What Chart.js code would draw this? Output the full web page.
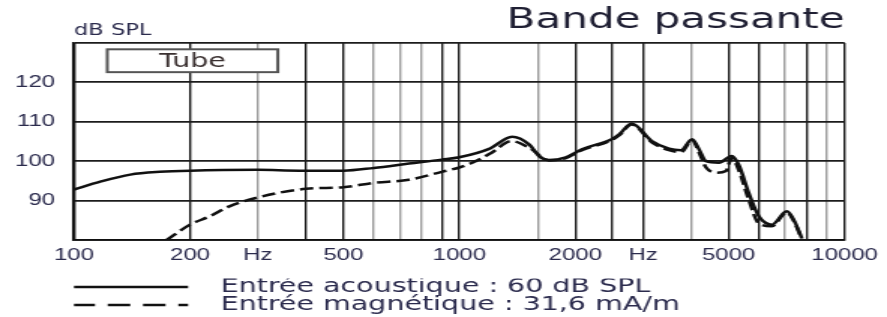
<!DOCTYPE html>
<html>
<head>
<meta charset="utf-8">
<script src="https://cdn.jsdelivr.net/npm/chart.js@4/dist/chart.umd.min.js"></script>
<style>
  html, body { margin: 0; padding: 0; background: #fff; }
  /* the printed chart is stretched sideways, so the bitmap is drawn narrow and widened by css */
  #response-chart { width: 887px; height: 317px; }
</style>
</head>
<body>
<canvas id="response-chart" width="591" height="317" style="width:887px;height:317px"></canvas>
<script>
// levels (Hz -> dB SPL)
const acousticFreq = [100, 117, 140, 167, 200, 300, 385, 500, 600, 740, 900, 1000, 1200, 1370, 1520, 1610, 1710, 1890, 2080, 2500, 2600, 2800, 3160, 3500, 3760, 4020, 4190, 4370, 4720, 5090, 5310, 5640, 5990, 6470, 7080, 7380, 7740];
const acousticLevel = [92.8, 94.8, 96.6, 97.3, 97.6, 97.8, 97.6, 97.6, 98.3, 99.4, 100.4, 101.0, 103.2, 106.2, 104.2, 101.3, 100.3, 101.0, 103.0, 105.7, 106.8, 109.6, 105.1, 103.2, 102.8, 105.6, 103.0, 100.0, 99.6, 101.3, 99.1, 91.9, 86.0, 83.9, 87.3, 85.1, 80.5];

const magneticFreq = [174, 200, 225, 254, 300, 400, 500, 600, 740, 900, 1000, 1080, 1210, 1365, 1520, 1710, 1890, 2080, 2500, 2600, 2800, 3160, 3500, 3760, 4020, 4190, 4370, 4660, 4920, 5090, 5310, 5640, 5990, 6470, 7080, 7380, 7740];
const magneticLevel = [80.0, 83.9, 86.0, 88.6, 90.8, 93.0, 93.4, 94.5, 95.3, 97.3, 98.4, 99.6, 102.1, 105.1, 103.4, 100.2, 100.8, 102.8, 105.5, 106.6, 109.3, 104.8, 102.8, 102.3, 105.3, 102.2, 98.4, 97.1, 97.5, 100.8, 97.8, 90.2, 84.2, 83.5, 87.0, 84.8, 80.3];

// vertical grid lines, the paler ones, and which of them carry a label
const gridFreqs = [100, 200, 300, 400, 500, 600, 700, 800, 900, 1000, 1600, 2000, 2500, 3000, 4000, 5000, 6000, 7000, 8000, 9000, 10000];
const paleFreqs = [300, 600, 700, 800, 1600, 4000, 7000, 9000];
const labelFreqs = [100, 200, 300, 500, 1000, 2000, 3000, 5000, 10000];
const labelTexts = ['100', '200', 'Hz', '500', '1000', '2000', 'Hz', '5000', '10000'];
const levelTicks = [90, 100, 110, 120];

const ink = '#2b2b4d';
const font = 'DejaVu Sans';
const tickFont = 'Liberation Sans';

//the little "Tube" box in the top left corner of the plot
const tubeBox = {
    id: 'tubeBox',
    afterDatasetsDraw(chart) {
        const { ctx, scales: { x, y } } = chart;
        const left = x.getPixelForValue(122);
        const right = x.getPixelForValue(338);
        const top = y.getPixelForValue(128.4);
        const bottom = y.getPixelForValue(122.6);
        ctx.save();
        ctx.fillStyle = '#fff';
        ctx.fillRect(left, top, right - left, bottom - top);
        ctx.strokeStyle = '#555';
        ctx.lineWidth = 2;
        ctx.strokeRect(left, top, right - left, bottom - top);
        ctx.fillStyle = '#3a3030';
        ctx.font = '19px ' + font;
        ctx.textAlign = 'center';
        ctx.textBaseline = 'middle';
        ctx.fillText('Tube', (left + right) / 2, (top + bottom) / 2 + 1);
        ctx.restore();
    }
};

const canvas = document.querySelector('#response-chart');
new Chart(canvas.getContext('2d'), {
    type: 'line',
    data: {
        datasets: [{
            label: 'Entrée acoustique : 60 dB SPL',
            data: acousticFreq.map((f, i) => ({ x: f, y: acousticLevel[i] })),
            borderColor: '#111',
            backgroundColor: '#111',
            borderWidth: 2.5,
            pointRadius: 0,
            cubicInterpolationMode: 'monotone'
        }, {
            label: 'Entrée magnétique : 31,6 mA/m',
            data: magneticFreq.map((f, i) => ({ x: f, y: magneticLevel[i] })),
            borderColor: '#111',
            backgroundColor: '#111',
            borderWidth: 2.5,
            borderDash: [9, 4],
            pointRadius: 0,
            cubicInterpolationMode: 'monotone'
        }]
    },
    options: {
        responsive: false,
        animation: false,
        layout: { padding: { left: 0, right: 28, top: 0, bottom: -7.5 } },
        plugins: {
            title: {
                display: true,
                text: 'Bande passante',
                align: 'end',
                fullSize: false,
                color: '#1f1f33',
                font: { family: font, size: 28, weight: 'normal' },
                padding: { top: 4, bottom: -15.6 }
            },
            subtitle: {
                display: true,
                text: 'dB SPL',
                align: 'start',
                fullSize: false,
                color: ink,
                font: { family: font, size: 15 },
                padding: { top: 0, bottom: 3 }
            },
            legend: {
                position: 'bottom',
                align: 'start',
                fullSize: false,
                labels: {
                    usePointStyle: true,
                    pointStyle: 'line',
                    pointStyleWidth: 77,
                    boxHeight: 10,
                    padding: -1,
                    color: ink,
                    font: { family: font, size: 19 },
                    //point style legends lose the dash, so put the line style back
                    generateLabels: chart => Chart.defaults.plugins.legend.labels.generateLabels(chart)
                        .map(item => ({
                            ...item,
                            text: '  ' + item.text,
                            lineWidth: 2.6,
                            strokeStyle: '#111',
                            lineDash: chart.data.datasets[item.datasetIndex].borderDash ? [15, 8.5] : []
                        }))
                }
            },
            tooltip: { enabled: false }
        },
        scales: {
            x: {
                type: 'logarithmic',
                min: 100,
                max: 10000,
                afterBuildTicks: scale => { scale.ticks = gridFreqs.map(v => ({ value: v })); },
                afterFit: scale => { scale.height = 38.5; },
                grid: {
                    color: c => paleFreqs.includes(c.tick.value) ? '#9c9c9c' : '#1c1c1c',
                    lineWidth: 1.4,
                    drawTicks: false
                },
                border: { color: '#111', width: 1.8 },
                ticks: {
                    autoSkip: false,
                    maxRotation: 0,
                    padding: 6,
                    color: ink,
                    font: { family: tickFont, size: 16 },
                    callback: v => {
                        const i = labelFreqs.indexOf(v);
                        return i >= 0 ? labelTexts[i] : '';
                    }
                }
            },
            y: {
                min: 80,
                max: 130,
                afterFit: scale => { scale.width = 49.3; },
                grid: { color: '#1c1c1c', lineWidth: 1.8, drawTicks: false },
                border: { color: '#111', width: 1.8 },
                ticks: {
                    stepSize: 10,
                    padding: 12.6,
                    color: ink,
                    font: { family: tickFont, size: 16 },
                    callback: v => levelTicks.includes(v) ? String(v) : ''
                }
            }
        }
    },
    plugins: [tubeBox]
});
</script>
</body>
</html>
